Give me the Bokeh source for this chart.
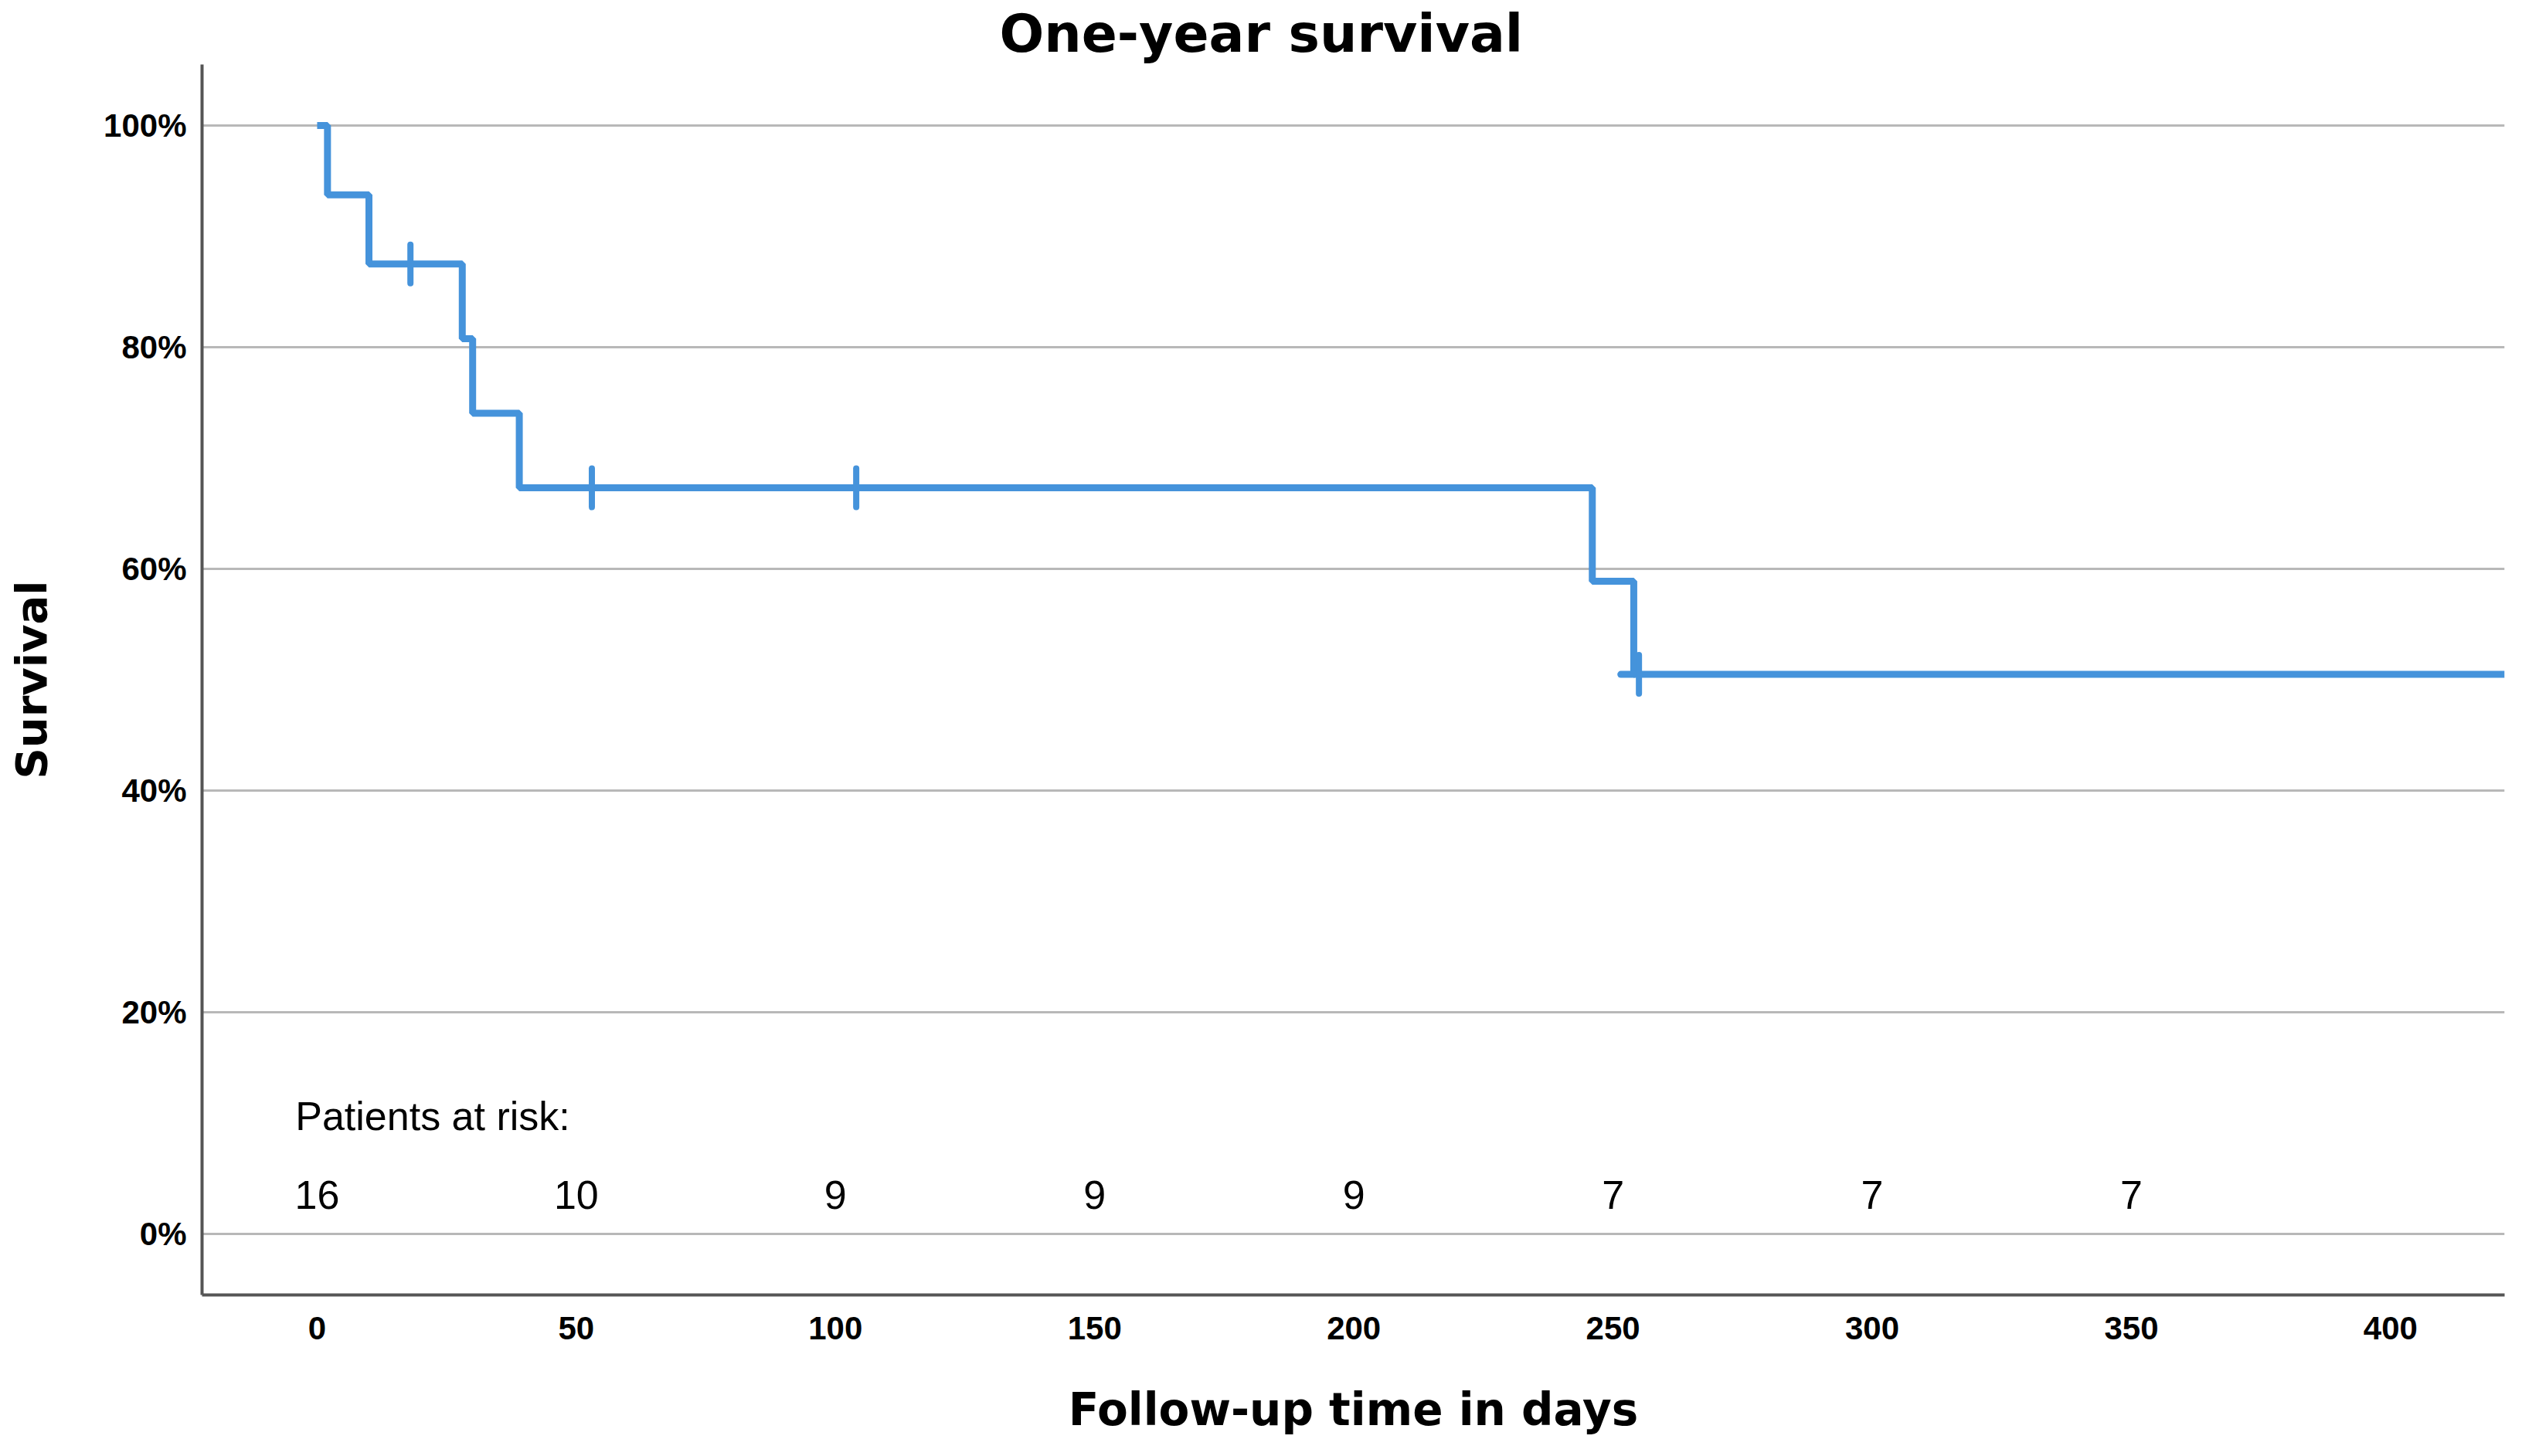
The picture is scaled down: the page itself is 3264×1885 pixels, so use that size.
import math
from bokeh.plotting import figure
from bokeh.models import FixedTicker, PrintfTickFormatter, Range1d, Label
from bokeh.core.properties import value
from bokeh.embed import file_html
from bokeh.resources import INLINE

# ---- data ----
times = [0, 2, 10, 28, 30, 39, 246, 254, 422]
survival = [100, 93.75, 87.5, 80.77, 74.04, 67.31, 58.89, 50.48, 50.48]
tail_x = [251.5, 254]
tail_y = [50.48, 50.48]
censor_times = [18, 53, 104, 255]
censor_surv = [87.5, 67.31, 67.31, 50.48]
risk_days = [0, 50, 100, 150, 200, 250, 300, 350]
risk_counts = [16, 10, 9, 9, 9, 7, 7, 7]
x_ticks = [0, 50, 100, 150, 200, 250, 300, 350, 400]
y_ticks = [0, 20, 40, 60, 80, 100]

BLUE = "#4593db"
FONT = "Liberation Sans"
TFONT = "DejaVu Sans"

p = figure(
    frame_width=2980, frame_height=1593,
    min_border_left=261, min_border_right=7, min_border_top=82, min_border_bottom=190,
    x_range=Range1d(-22.2, 422), y_range=Range1d(-5.5, 105.5),
    output_backend="svg", toolbar_location=None,
    title="One-year survival",
)
p.outline_line_color = None
p.background_fill_color = "white"
p.border_fill_color = "white"

p.title.text_font = TFONT
p.title.text_font_size = "68px"
p.title.text_font_style = "bold"
p.title.text_color = "black"
p.title.align = "left"
p.title.offset = 1032
p.title.standoff = 2

# axes
for ax in (p.xaxis[0], p.yaxis[0]):
    ax.axis_line_color = "#555555"
    ax.axis_line_width = 4
    ax.major_tick_line_color = None
    ax.minor_tick_line_color = None
    ax.major_label_text_font = FONT
    ax.major_label_text_font_size = "42px"
    ax.major_label_text_font_style = "bold"
    ax.major_label_text_color = "black"
    ax.axis_label_text_font = TFONT
    ax.axis_label_text_font_style = "bold"
    ax.axis_label_text_color = "black"

p.xaxis.ticker = FixedTicker(ticks=x_ticks)
p.yaxis.ticker = FixedTicker(ticks=y_ticks)
p.yaxis.formatter = PrintfTickFormatter(format="%d%%")
p.xaxis.major_label_standoff = 22
p.yaxis.major_label_standoff = 14
p.xaxis.axis_label = "Follow-up time in days"
p.xaxis.axis_label_text_font_size = "58px"
p.xaxis.axis_label_standoff = 54
p.yaxis.axis_label = "Survival"
p.yaxis.axis_label_text_font_size = "56px"
p.yaxis.axis_label_standoff = 58

p.xgrid.grid_line_color = None
p.ygrid.grid_line_color = "#b8b8b8"
p.ygrid.grid_line_width = 3

# survival curve
p.step(times, survival, mode="after", line_width=9, line_color=BLUE)
p.line(tail_x, tail_y, line_width=9, line_color=BLUE, line_cap="round")
p.scatter(censor_times, censor_surv, marker="dash", angle=math.pi / 2, size=50,
          line_width=8, line_color=BLUE, line_cap="round")

# patients at risk
p.add_layout(Label(x=-4.2, y=10.66, text="Patients at risk:", text_font=FONT,
                   text_font_size="52px", text_color="black",
                   text_baseline="alphabetic", text_align="left"))
p.text(x=risk_days, y=[3.5] * len(risk_days), text=[str(c) for c in risk_counts],
       text_font=value(FONT), text_font_size="52px", text_color="black",
       text_align="center", text_baseline="alphabetic")

open("out.html", "w").write(file_html(p, INLINE))
